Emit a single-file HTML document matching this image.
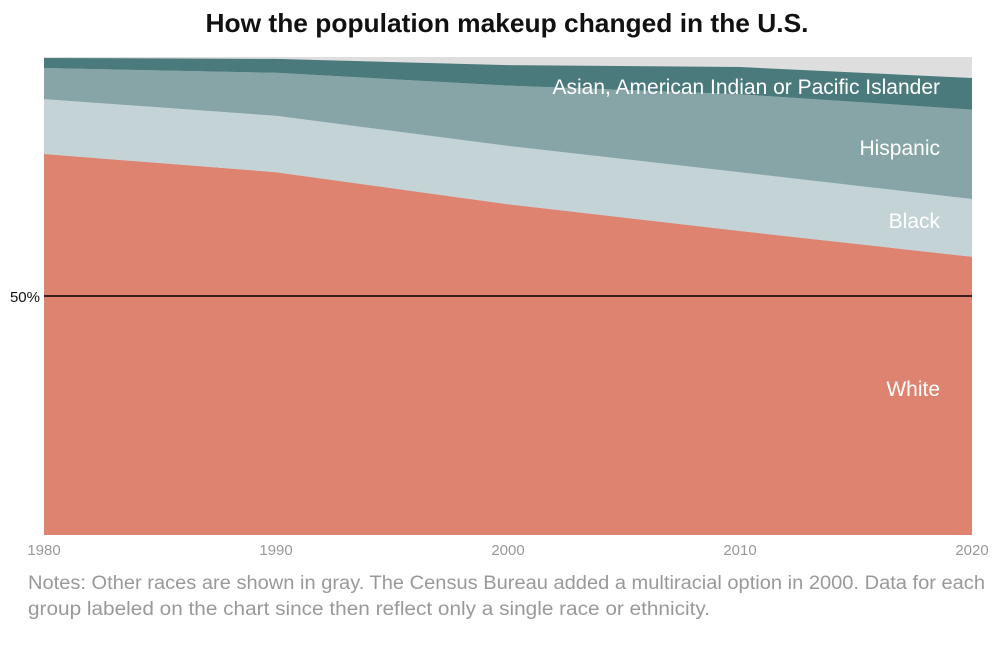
<!DOCTYPE html>
<html><head><meta charset="utf-8"><style>
body{margin:0;background:#fff;width:1002px;height:644px;overflow:hidden;font-family:"Liberation Sans",sans-serif}
</style></head><body>
<svg id="chart" width="1002" height="644" viewBox="0 0 1002 644" xmlns="http://www.w3.org/2000/svg">
<text x="507" y="32" text-anchor="middle" font-size="26" font-weight="bold" fill="#111" textLength="603" lengthAdjust="spacingAndGlyphs">How the population makeup changed in the U.S.</text>
<g id="areas"></g>
<g id="labels"></g>
<text x="28" y="589" font-size="19" fill="#999" textLength="957" lengthAdjust="spacingAndGlyphs">Notes: Other races are shown in gray. The Census Bureau added a multiracial option in 2000. Data for each</text>
<text x="28" y="615" font-size="19" fill="#999" textLength="682" lengthAdjust="spacingAndGlyphs">group labeled on the chart since then reflect only a single race or ethnicity.</text>
</svg>
<script>
const years=[1980,1990,2000,2010,2020];
const white=[79.7,75.9,69.2,63.6,58.2];
const black=[11.5,11.8,12.2,12.3,12.1];
const hispanic=[6.5,9.0,12.6,16.3,18.7];
const asian=[2.1,2.9,4.3,5.7,6.6];
const tickLabels=["1980","1990","2000","2010","2020"];
const series=[["white-area",white,"#de8370"],["black-area",black,"#c3d3d6"],["hispanic-area",hispanic,"#87a5a6"],["asian-area",asian,"#4b7a7c"]];
const X0=44,X1=972,Y0=535,Y1=57;
const x=v=>X0+(v-1980)/(2020-1980)*(X1-X0);
const y=p=>Y0-p/100*(Y0-Y1);
const NS="http://www.w3.org/2000/svg";
const g=document.getElementById('areas');
const bg=document.createElementNS(NS,'rect');


bg.setAttribute('x',X0);bg.setAttribute('y',Y1);bg.setAttribute('width',X1-X0);bg.setAttribute('height',Y0-Y1);bg.setAttribute('fill','#dedede');
g.appendChild(bg);
let base=years.map(()=>0);
series.forEach(([name,vals,col])=>{
  const top=base.map((b,i)=>b+vals[i]);
  let d=years.map((yr,i)=>(i?'L':'M')+x(yr)+','+y(top[i])).join(' ');
  for(let i=years.length-1;i>=0;i--)d+=' L'+x(years[i])+','+y(base[i]);
  const p=document.createElementNS(NS,'path');
  
  
  p.setAttribute('d',d+'Z');p.setAttribute('fill',col);
  g.appendChild(p);base=top;
});
const line=document.createElementNS(NS,'line');


line.setAttribute('x1',X0);line.setAttribute('x2',X1);line.setAttribute('y1',y(50));line.setAttribute('y2',y(50));
line.setAttribute('stroke','#000');line.setAttribute('stroke-width','1.5');g.appendChild(line);
const L=document.getElementById('labels');
function txt(name,s,xx,yy,anchor,size,fill){const t=document.createElementNS(NS,'text');


t.setAttribute('x',xx);t.setAttribute('y',yy);t.setAttribute('text-anchor',anchor);t.setAttribute('font-size',size);t.setAttribute('fill',fill);t.textContent=s;L.appendChild(t);return t;}
txt('y-label-50',"50%",40,y(50)+6,'end',15,'#111');
years.forEach((yr,i)=>txt('x-tick-label',tickLabels[i],x(yr),555,'middle',15,'#999'));
const lb=[["white-label","White"],["black-label","Black"],["hispanic-label","Hispanic"],["asian-label","Asian, American Indian or Pacific Islander"]];
const ly=[396,228,155,94];
lb.forEach((l,i)=>txt(l[0],l[1],940,ly[i],'end',21,'#fff'));
</script>
</body></html>
